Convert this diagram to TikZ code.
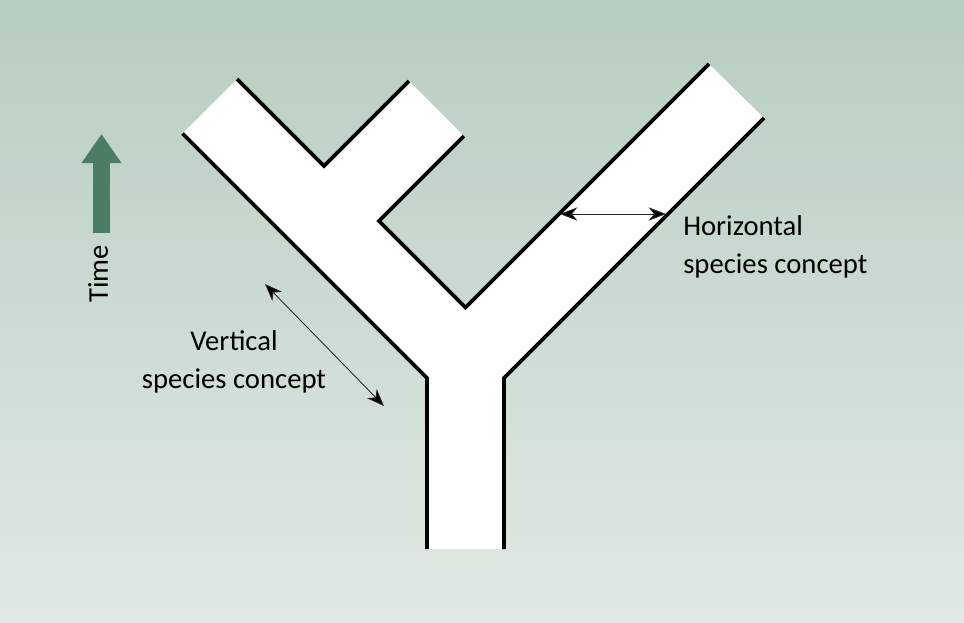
\documentclass[tikz,border=0pt]{standalone}
\usepackage{fontspec}
\setmainfont{Carlito}
\usepackage{xcolor}
\usepackage{tikz}
\usetikzlibrary{arrows.meta}
\usetikzlibrary{backgrounds,positioning}
\pgfdeclarelayer{edgelayer}
\pgfdeclarelayer{nodelayer}
\pgfsetlayers{background,edgelayer,nodelayer,main}
\definecolor{bgtop}{RGB}{183,205,192}
\definecolor{bgbot}{RGB}{225,233,227}
\definecolor{timegreen}{RGB}{74,125,100}
\tikzstyle{none}=[inner sep=0mm]
\tikzstyle{lbl}=[inner sep=0mm,font=\fontsize{21.5}{28.5}\selectfont]
\tikzstyle{side}=[line width=2.7pt,line join=miter]
\tikzstyle{span}=[line width=0.65pt,draw=black!85,{Stealth[length=13pt,width=10pt,inset=4pt,fill=black]}-{Stealth[length=13pt,width=10pt,inset=4pt,fill=black]}]
\tikzstyle{timearrow}=[line width=12.75pt,draw=timegreen,-{Triangle[width=28.5pt,length=21.75pt]}]

\begin{document}
\begin{tikzpicture}[x=0.75pt,y=-0.75pt]
	\begin{pgfonlayer}{background}
		\shade [top color=bgtop,bottom color=bgbot] (0,0) rectangle (964,622);
	\end{pgfonlayer}
	\begin{pgfonlayer}{nodelayer}
		% outline of the tree
		\coordinate (lt) at (182.5,133.5);
		\coordinate (ltt) at (237,79);
		\coordinate (n1) at (324,166);
		\coordinate (st) at (409,81);
		\coordinate (sr) at (464,136);
		\coordinate (n2) at (379,221);
		\coordinate (fork) at (465.5,307.5);
		\coordinate (rtl) at (709,64);
		\coordinate (rtr) at (764,118);
		\coordinate (tr) at (504,378);
		\coordinate (tl) at (427,378);
		\coordinate (bl) at (427,549);
		\coordinate (br) at (504,549);
		% arrow ends
		\coordinate (hl) at (560,214);
		\coordinate (hr) at (666,214);
		\coordinate (vt) at (265,284);
		\coordinate (vb) at (384,406);
		\coordinate (tb) at (101.5,233);
		\coordinate (tt) at (101.5,134);
		\node [style=lbl, anchor=base west, align=left] (horiz) at (683,273) {Horizontal\\species concept};
		\node [style=lbl, anchor=base, align=center] (vert) at (234,388) {Vertical\\species concept};
		\node [style=lbl, rotate=90] (time) at (98,274) {Time};
	\end{pgfonlayer}
	\begin{pgfonlayer}{edgelayer}
		\fill [white] (lt) -- (tl) -- (bl) -- (br) -- (tr) -- (rtr) -- (rtl) -- (fork) -- (n2) -- (sr) -- (st) -- (n1) -- (ltt) -- cycle;
		\draw [style=side] (lt) -- (tl) -- (bl);
		\draw [style=side] (br) -- (tr) -- (rtr);
		\draw [style=side] (rtl) -- (fork) -- (n2) -- (sr);
		\draw [style=side] (st) -- (n1) -- (ltt);
		\draw [style=span] (hl) -- (hr);
		\draw [style=span] (vt) -- (vb);
		\draw [style=timearrow] (tb) -- (tt);
	\end{pgfonlayer}
\end{tikzpicture}
\end{document}
